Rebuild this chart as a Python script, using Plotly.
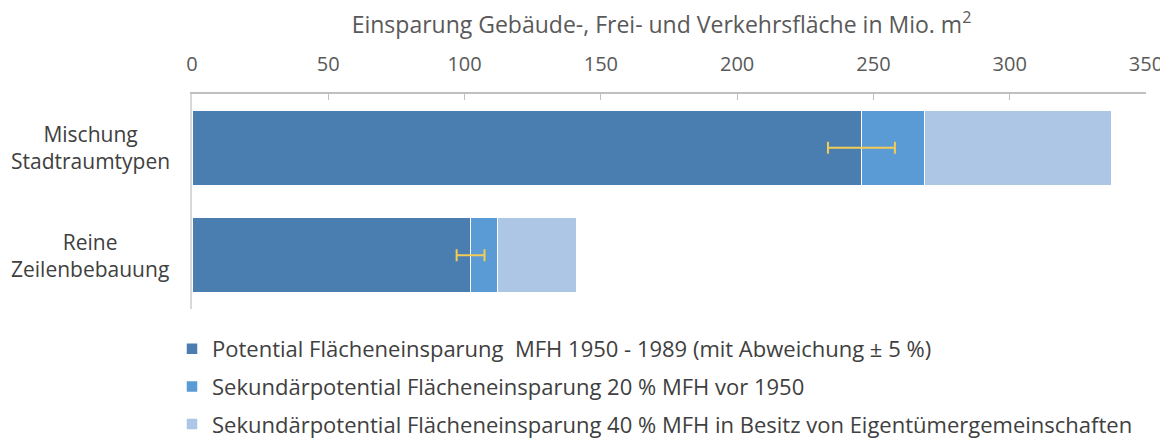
import plotly.graph_objects as go

categories = ["Mischung<br>Stadtraumtypen", "Reine<br>Zeilenbebauung"]
potential = [245.6, 102.2]
sek_20 = [23.2, 9.9]
sek_40 = [68.8, 28.9]
err_pct = 0.05

names = [
    "Potential Flächeneinsparung  MFH 1950 - 1989 (mit Abweichung ± 5 %)",
    "Sekundärpotential Flächeneinsparung 20 % MFH vor 1950",
    "Sekundärpotential Flächeneinsparung 40 % MFH in Besitz von Eigentümergemeinschaften",
]
colors = ["#4a7eb0", "#5b9bd5", "#adc6e5"]
tickvals = [0, 50, 100, 150, 200, 250, 300, 350]

FONT = "Open Sans"
OFF = 8  # default page body margin
W, H = 1168 - OFF, 441 - OFF
L, R, T, B = 192 - OFF, 22, 94 - OFF, 132
PW, PH = W - L - R, H - T - B

fig = go.Figure()
series = [potential, sek_20, sek_40]
for i, (vals, nm, c) in enumerate(zip(series, names, colors)):
    fig.add_trace(go.Bar(
        y=categories, x=vals, orientation="h", name=nm,
        marker=dict(color=c, line=dict(color="white", width=1.5)),
        legendgroup=str(i)))

# error bars drawn on top of the stacked bars
fig.add_trace(go.Scatter(
    y=categories, x=potential, mode="markers",
    marker=dict(size=1, color="rgba(0,0,0,0)"),
    error_x=dict(type="data", array=[v * err_pct for v in potential],
                 color="#f2cc55", thickness=2, width=6, visible=True),
    showlegend=False, hoverinfo="skip"))

for cat in categories:
    fig.add_annotation(x=(90 - 192) / PW, y=cat, xref="paper", yref="y",
                       text=cat, showarrow=False, xanchor="center", align="center",
                       font=dict(family=FONT, size=21, color="#404040"))

fig.update_layout(
    width=W, height=H,
    margin=dict(l=L, r=R, t=T, b=B, autoexpand=False),
    paper_bgcolor="white", plot_bgcolor="white",
    barmode="stack", bargap=0.3,
    font=dict(family=FONT, size=20, color="#595959"),
    title=dict(text="Einsparung Gebäude-, Frei- und Verkehrsfläche in Mio. m<sup>2</sup>",
               font=dict(family=FONT, size=23, color="#595959"),
               xref="container", yref="container",
               x=(661.5 - OFF) / W, xanchor="center",
               y=1 - (25 - OFF) / H, yanchor="middle"),
    xaxis=dict(side="top", range=[0, 350], tickvals=tickvals, automargin=False,
               showgrid=False, zeroline=False,
               showline=True, linecolor="#bfbfbf", linewidth=2,
               ticks="inside", ticklen=6, tickcolor="#bfbfbf",
               ticklabelstandoff=13,
               tickfont=dict(family=FONT, size=20, color="#595959")),
    yaxis=dict(autorange="reversed", showticklabels=False, showgrid=False, automargin=False,
               showline=True, linecolor="#d9d9d9", linewidth=2, zeroline=False,
               ticks=""),
    legend=dict(orientation="v",
                x=(172 - 192) / PW, y=-(328 - 309) / PH, xanchor="left", yanchor="top",
                font=dict(family=FONT, size=22, color="#404040"),
                tracegroupgap=6, itemwidth=30, traceorder="grouped"),
    showlegend=True,
)

fig.write_html("out.html")
